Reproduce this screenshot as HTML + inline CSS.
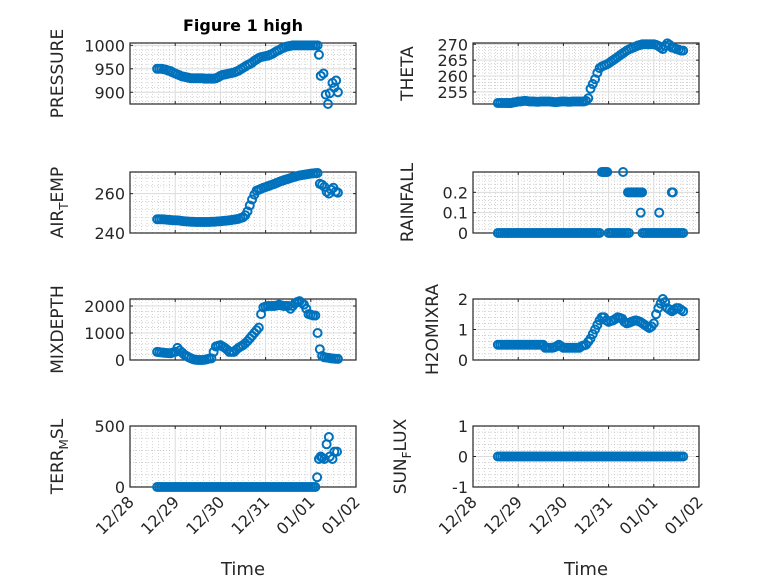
<!DOCTYPE html>
<html><head><meta charset="utf-8"><style>
html,body{margin:0;padding:0;background:#fff;}
svg{display:block;font-family:"DejaVu Sans","Liberation Sans",sans-serif;}
</style></head><body>
<svg id="fig" width="778" height="583" viewBox="0 0 778 583">
<rect width="778" height="583" fill="#ffffff"/>
<text x="243" y="31" text-anchor="middle" font-weight="bold" font-size="16" fill="#000">Figure 1 high</text>
</svg>
<script>
// ---- data (x in days since 12/28 00:00) ----
const xTickLabels = ["12/28","12/29","12/30","12/31","01/01","01/02"];

const pressureT = [0.60,0.65,0.70,0.75,0.80,0.85,0.90,0.95,1.00,1.05,1.10,1.15,1.20,1.25,1.30,1.35,1.40,1.45,1.50,1.55,1.60,1.65,1.70,1.75,1.80,1.85,1.90,1.95,2.00,2.05,2.10,2.15,2.20,2.25,2.30,2.35,2.40,2.45,2.50,2.55,2.60,2.65,2.70,2.75,2.80,2.85,2.90,2.95,3.00,3.05,3.10,3.15,3.20,3.25,3.30,3.35,3.40,3.45,3.50,3.55,3.60,3.65,3.70,3.75,3.80,3.85,3.90,3.95,4.00,4.05,4.10,4.15,4.18,4.22,4.28,4.33,4.38,4.42,4.48,4.52,4.56,4.60];
const pressureV = [950,950,950,949,948,946,945,942,940,938,936,934,933,932,931,930,930,930,930,930,930,929,929,929,929,929,930,932,935,937,938,939,940,941,942,944,946,949,952,955,958,960,963,967,970,973,975,976,977,978,980,982,985,988,990,993,995,997,998,999,1000,1000,1000,1000,1000,1000,1000,1000,1000,1000,1000,1000,980,935,940,895,875,898,920,910,925,900];

const thetaT = [0.55,0.60,0.65,0.70,0.75,0.80,0.85,0.90,0.95,1.00,1.05,1.10,1.15,1.20,1.25,1.30,1.35,1.40,1.45,1.50,1.55,1.60,1.65,1.70,1.75,1.80,1.85,1.90,1.95,2.00,2.05,2.10,2.15,2.20,2.25,2.30,2.35,2.40,2.45,2.50,2.55,2.60,2.65,2.70,2.75,2.80,2.85,2.90,2.95,3.00,3.05,3.10,3.15,3.20,3.25,3.30,3.35,3.40,3.45,3.50,3.55,3.60,3.65,3.70,3.75,3.80,3.85,3.90,3.95,4.00,4.05,4.10,4.15,4.20,4.25,4.30,4.35,4.40,4.45,4.50,4.55,4.60,4.65];
const thetaV = [251.5,251.5,251.5,251.5,251.5,251.5,251.5,251.7,251.8,252,252,252.1,252.2,252.1,252,252,252,251.9,251.9,252,252,252,252,252,251.9,251.8,251.8,251.9,252,252,252,251.9,251.9,252,252,252,252,252,252,252.2,253,256,257.5,259,261,262.5,263,263.3,263.6,264,264.5,265,265.5,266,266.5,267,267.5,268,268.4,268.7,269,269.3,269.6,269.8,270,270,270,270,270,270,269.8,269.5,269,268.5,269.5,270.3,269.8,269,268.8,268.5,268.3,268,268];

const airT = [0.60,0.65,0.70,0.75,0.80,0.85,0.90,0.95,1.00,1.05,1.10,1.15,1.20,1.25,1.30,1.35,1.40,1.45,1.50,1.55,1.60,1.65,1.70,1.75,1.80,1.85,1.90,1.95,2.00,2.05,2.10,2.15,2.20,2.25,2.30,2.35,2.40,2.45,2.50,2.55,2.60,2.65,2.70,2.75,2.80,2.85,2.90,2.95,3.00,3.05,3.10,3.15,3.20,3.25,3.30,3.35,3.40,3.45,3.50,3.55,3.60,3.65,3.70,3.75,3.80,3.85,3.90,3.95,4.00,4.05,4.10,4.15,4.20,4.25,4.30,4.35,4.40,4.45,4.50,4.55,4.60];
const airV = [247,247,247,246.9,246.8,246.7,246.6,246.5,246.5,246.4,246.3,246.1,246,245.9,245.8,245.7,245.7,245.6,245.6,245.6,245.6,245.6,245.6,245.6,245.7,245.7,245.8,245.9,246,246.1,246.2,246.3,246.5,246.6,246.8,247,247.2,247.6,248,249,251,254,257,259.5,261.5,262,262.5,263,263.3,263.8,264.2,264.6,265,265.5,266,266.4,266.8,267.2,267.5,267.9,268.3,268.6,268.9,269.2,269.4,269.6,269.8,270,270.2,270.3,270.4,270.5,265,264.5,263.5,261,260,262,263,261,260.5];

const rainT = [0.55,0.60,0.65,0.70,0.75,0.80,0.85,0.90,0.95,1.00,1.05,1.10,1.15,1.20,1.25,1.30,1.35,1.40,1.45,1.50,1.55,1.60,1.65,1.70,1.75,1.80,1.85,1.90,1.95,2.00,2.05,2.10,2.15,2.20,2.25,2.30,2.35,2.40,2.45,2.50,2.55,2.60,2.65,2.70,2.75,2.80,
 2.85,2.88,2.91,2.94,2.97,
 3.00,3.05,3.10,3.15,3.20,3.25,3.30,3.35,3.40,3.45,
 3.32,
 3.43,3.47,3.51,3.55,3.59,3.63,3.67,3.71,3.74,
 3.71,
 3.75,3.80,3.85,3.90,3.95,4.00,4.05,4.10,4.15,4.20,4.25,4.30,4.35,4.40,4.45,4.50,4.55,4.60,4.65,
 4.12,4.40,4.42];
const rainV = [0,0,0,0,0,0,0,0,0,0,0,0,0,0,0,0,0,0,0,0,0,0,0,0,0,0,0,0,0,0,0,0,0,0,0,0,0,0,0,0,0,0,0,0,0,0,
 0.3,0.3,0.3,0.3,0.3,
 0,0,0,0,0,0,0,0,0,0,
 0.3,
 0.2,0.2,0.2,0.2,0.2,0.2,0.2,0.2,0.2,
 0.1,
 0,0,0,0,0,0,0,0,0,0,0,0,0,0,0,0,0,0,0,
 0.1,0.2,0.2];

const mixT = [0.60,0.65,0.70,0.75,0.80,0.85,0.90,0.95,1.00,1.05,1.10,1.15,1.20,1.25,1.30,1.35,1.40,1.45,1.50,1.55,1.60,1.65,1.70,1.75,1.80,1.85,1.90,1.95,2.00,2.05,2.10,2.15,2.20,2.25,2.30,2.35,2.40,2.45,2.50,2.55,2.60,2.65,2.70,2.75,2.80,2.85,2.90,2.95,3.00,3.05,3.10,3.15,3.20,3.25,3.30,3.35,3.40,3.45,3.50,3.55,3.60,3.65,3.70,3.75,3.80,3.85,3.90,3.95,4.00,4.05,4.10,4.15,4.20,4.25,4.30,4.35,4.40,4.45,4.50,4.55,4.60];
const mixV = [300,290,280,270,260,255,250,280,300,450,350,280,200,150,100,60,30,10,0,0,0,10,30,50,60,300,500,530,550,500,450,380,300,300,300,380,450,500,550,620,700,800,900,1000,1100,1200,1700,1950,1980,2000,2000,2000,2000,2020,2050,2020,2000,2000,2000,1900,2000,2100,2150,2180,2120,2050,1900,1700,1680,1650,1650,1000,400,150,100,90,80,60,50,45,40];

const h2oT = [0.55,0.60,0.65,0.70,0.75,0.80,0.85,0.90,0.95,1.00,1.05,1.10,1.15,1.20,1.25,1.30,1.35,1.40,1.45,1.50,1.55,1.60,1.65,1.70,1.75,1.80,1.85,1.90,1.95,2.00,2.05,2.10,2.15,2.20,2.25,2.30,2.35,2.40,2.45,2.50,2.55,2.60,2.65,2.70,2.75,2.80,2.85,2.90,2.95,3.00,3.05,3.10,3.15,3.20,3.25,3.30,3.35,3.40,3.45,3.50,3.55,3.60,3.65,3.70,3.75,3.80,3.85,3.90,3.95,4.00,4.05,4.10,4.15,4.20,4.25,4.30,4.35,4.40,4.45,4.50,4.55,4.60,4.65];
const h2oV = [0.5,0.5,0.5,0.5,0.5,0.5,0.5,0.5,0.5,0.5,0.5,0.5,0.5,0.5,0.5,0.5,0.5,0.5,0.5,0.5,0.5,0.4,0.4,0.4,0.4,0.42,0.45,0.5,0.45,0.4,0.4,0.4,0.4,0.4,0.4,0.4,0.4,0.45,0.48,0.5,0.6,0.7,0.85,1.0,1.15,1.3,1.4,1.4,1.3,1.25,1.28,1.3,1.35,1.4,1.38,1.35,1.25,1.2,1.22,1.25,1.28,1.3,1.28,1.25,1.2,1.15,1.1,1.05,1.1,1.2,1.5,1.7,1.85,2.0,1.9,1.7,1.65,1.6,1.65,1.7,1.7,1.65,1.6];

const terrT = [0.60,0.65,0.70,0.75,0.80,0.85,0.90,0.95,1.00,1.05,1.10,1.15,1.20,1.25,1.30,1.35,1.40,1.45,1.50,1.55,1.60,1.65,1.70,1.75,1.80,1.85,1.90,1.95,2.00,2.05,2.10,2.15,2.20,2.25,2.30,2.35,2.40,2.45,2.50,2.55,2.60,2.65,2.70,2.75,2.80,2.85,2.90,2.95,3.00,3.05,3.10,3.15,3.20,3.25,3.30,3.35,3.40,3.45,3.50,3.55,3.60,3.65,3.70,3.75,3.80,3.85,3.90,3.95,4.00,4.05,4.10,4.14,4.18,4.22,4.25,4.30,4.35,4.40,4.42,4.48,4.52,4.58];
const terrV = [0,0,0,0,0,0,0,0,0,0,0,0,0,0,0,0,0,0,0,0,0,0,0,0,0,0,0,0,0,0,0,0,0,0,0,0,0,0,0,0,0,0,0,0,0,0,0,0,0,0,0,0,0,0,0,0,0,0,0,0,0,0,0,0,0,0,0,0,0,0,0,80,230,250,240,230,350,410,250,230,290,290];

const sunT = [0.55,0.60,0.65,0.70,0.75,0.80,0.85,0.90,0.95,1.00,1.05,1.10,1.15,1.20,1.25,1.30,1.35,1.40,1.45,1.50,1.55,1.60,1.65,1.70,1.75,1.80,1.85,1.90,1.95,2.00,2.05,2.10,2.15,2.20,2.25,2.30,2.35,2.40,2.45,2.50,2.55,2.60,2.65,2.70,2.75,2.80,2.85,2.90,2.95,3.00,3.05,3.10,3.15,3.20,3.25,3.30,3.35,3.40,3.45,3.50,3.55,3.60,3.65,3.70,3.75,3.80,3.85,3.90,3.95,4.00,4.05,4.10,4.15,4.20,4.25,4.30,4.35,4.40,4.45,4.50,4.55,4.60,4.65];
const sunV = [0,0,0,0,0,0,0,0,0,0,0,0,0,0,0,0,0,0,0,0,0,0,0,0,0,0,0,0,0,0,0,0,0,0,0,0,0,0,0,0,0,0,0,0,0,0,0,0,0,0,0,0,0,0,0,0,0,0,0,0,0,0,0,0,0,0,0,0,0,0,0,0,0,0,0,0,0,0,0,0,0,0,0];

const pressureTicks = [900,950,1000];
const thetaTicks = [255,260,265,270];
const airTicks = [240,260];
const rainTicks = [0,0.1,0.2];
const mixTicks = [0,1000,2000];
const h2oTicks = [0,1,2];
const terrTicks = [0,500];
const sunTicks = [-1,0,1];

// ---- rendering ----
const NS = "http://www.w3.org/2000/svg";
const svg = document.getElementById('fig');
function mk(tag, attrs, parent){const e=document.createElementNS(NS,tag);for(const k in attrs)e.setAttribute(k,attrs[k]);(parent||svg).appendChild(e);return e;}

const panels = [
 {id:'pressure',x0:130,y0:43,ylim:[875,1005],ticks:pressureTicks,minor:10,T:pressureT,V:pressureV,label:['PRESSURE'],lx:63,xlab:false},
 {id:'theta',x0:473,y0:43,ylim:[251.2,270.4],ticks:thetaTicks,minor:1,T:thetaT,V:thetaV,label:['THETA'],lx:413,xlab:false},
 {id:'air-temp',x0:130,y0:172,ylim:[240,271],ticks:airTicks,minor:4,T:airT,V:airV,label:['AIR','T','EMP'],lx:63,xlab:false},
 {id:'rainfall',x0:473,y0:172,ylim:[0,0.3],ticks:rainTicks,minor:0.02,T:rainT,V:rainV,label:['RAINFALL'],lx:413,xlab:false},
 {id:'mixdepth',x0:130,y0:299,ylim:[0,2260],ticks:mixTicks,minor:200,T:mixT,V:mixV,label:['MIXDEPTH'],lx:63,xlab:false},
 {id:'h2omixra',x0:473,y0:299,ylim:[0,2],ticks:h2oTicks,minor:0.2,T:h2oT,V:h2oV,label:['H2OMIXRA'],lx:438,xlab:false},
 {id:'terr-msl',x0:130,y0:426,ylim:[0,500],ticks:terrTicks,minor:100,T:terrT,V:terrV,label:['TERR','M','SL'],lx:63,xlab:true},
 {id:'sun-flux',x0:473,y0:426,ylim:[-1,1],ticks:sunTicks,minor:0.2,T:sunT,V:sunV,label:['SUN','F','LUX'],lx:406,xlab:true}
];
const W=226,H=61,XMAX=5;

panels.forEach(p=>{
  const g=mk('g',{});
  
  
  const xs=d=>p.x0+d/XMAX*W;
  const ys=v=>p.y0+H-(v-p.ylim[0])/(p.ylim[1]-p.ylim[0])*H;
  for(let d=0; d<=XMAX*8; d++){ if(d%8===0) continue; const x=xs(d/8);
    const l=mk('line',{x1:x,x2:x,y1:p.y0,y2:p.y0+H,stroke:'#b8b8b8','stroke-width':0.6,'stroke-dasharray':'1,2'},g);
      }
  const start=Math.ceil(p.ylim[0]/p.minor-1e-6);
  for(let k=start; k*p.minor<=p.ylim[1]+1e-9; k++){ const v=k*p.minor; const y=ys(v);
    const l=mk('line',{x1:p.x0,x2:p.x0+W,y1:y,y2:y,stroke:'#b8b8b8','stroke-width':0.6,'stroke-dasharray':'1,2'},g);
      }
  for(let d=1; d<XMAX; d++){ const x=xs(d);
    const l=mk('line',{x1:x,x2:x,y1:p.y0,y2:p.y0+H,stroke:'#dcdcdc','stroke-width':1},g);
      }
  p.ticks.forEach(v=>{ const y=ys(v);
    const l=mk('line',{x1:p.x0,x2:p.x0+W,y1:y,y2:y,stroke:'#dcdcdc','stroke-width':1},g);
     
    const tl=mk('line',{x1:p.x0,x2:p.x0+3,y1:y,y2:y,stroke:'#262626','stroke-width':1},g);
     
    const tr=mk('line',{x1:p.x0+W-3,x2:p.x0+W,y1:y,y2:y,stroke:'#262626','stroke-width':1},g);
     
    const t=mk('text',{x:p.x0-5,y:y+6,'text-anchor':'end','font-size':16,fill:'#262626'},g);
    t.textContent=String(v);
     
  });
  for(let d=0; d<=XMAX; d++){ const x=xs(d);
    const a=mk('line',{x1:x,x2:x,y1:p.y0+H,y2:p.y0+H-3,stroke:'#262626','stroke-width':1},g);
     
    const b=mk('line',{x1:x,x2:x,y1:p.y0,y2:p.y0+3,stroke:'#262626','stroke-width':1},g);
     
    if(p.xlab){
      const tx=x+5, ty=p.y0+H+16;
      const t=mk('text',{x:tx,y:ty,'text-anchor':'end','font-size':16,fill:'#262626',transform:`rotate(-45 ${tx} ${ty})`},g);
      t.textContent=xTickLabels[d];
       
    }
  }
  const box=mk('rect',{x:p.x0,y:p.y0,width:W,height:H,fill:'none',stroke:'#262626','stroke-width':1.2},g);
   
  const cy=p.y0+H/2;
  const yl=mk('text',{x:p.lx,y:cy,'text-anchor':'middle','font-size':17,fill:'#262626',transform:`rotate(-90 ${p.lx} ${cy})`},g);
   
  if(p.label.length===1){ yl.textContent=p.label[0]; }
  else{
    const s1=mk('tspan',{},yl); s1.textContent=p.label[0];
    const s2=mk('tspan',{dy:5,'font-size':12},yl); s2.textContent=p.label[1];
    const s3=mk('tspan',{dy:-5},yl); s3.textContent=p.label[2];
  }
  if(p.xlab){
    const xt=mk('text',{x:p.x0+W/2,y:575,'text-anchor':'middle','font-size':18,fill:'#262626'},g);
    xt.textContent='Time';
     
  }
  const mg=mk('g',{fill:'none',stroke:'#0072BD','stroke-width':2},g);
  
  
  p.T.forEach((t,i)=>{
    const c=mk('circle',{cx:xs(t),cy:ys(p.V[i]),r:4},mg);
    
    
  });
});
</script>
</body></html>
